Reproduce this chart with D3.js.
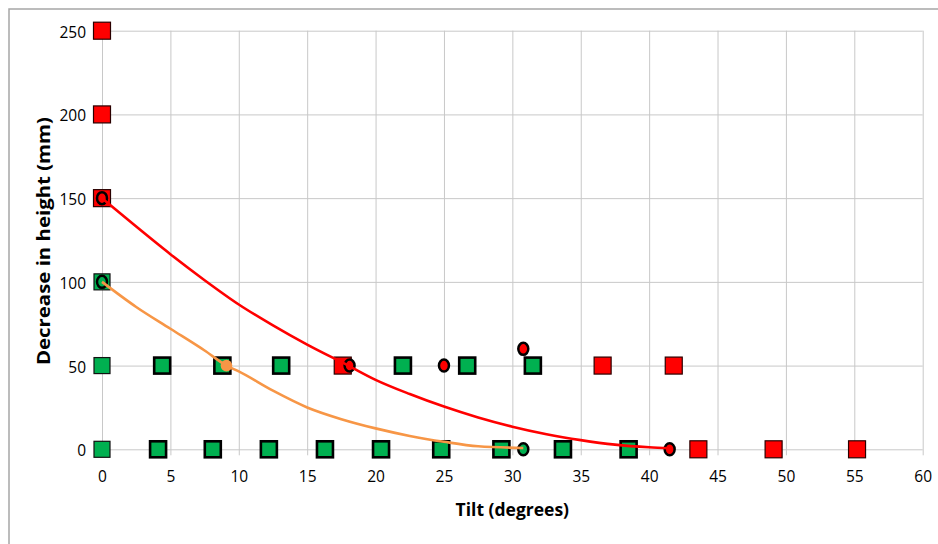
<!DOCTYPE html>
<html><head><meta charset="utf-8">
<script src="https://cdn.jsdelivr.net/npm/d3@7"></script>
<style>body{margin:0;background:#fff}</style>
</head><body>
<svg id="c" width="938" height="544"></svg>
<script>
// ---- data ----
const xTicks = [0,5,10,15,20,25,30,35,40,45,50,55,60];
const yTicks = [0,50,100,150,200,250];
const redSquares = [[0,250],[0,200],[0,150],[17.6,50],[36.6,50],[41.8,50],[43.6,0],[49.1,0],[55.2,0]];
const greenSquaresThin = [[0,100],[0,50],[0,0]];
const greenSquares = [[4.4,50],[8.8,50],[13.1,50],[22.0,50],[26.7,50],[31.5,50],
                      [4.1,0],[8.1,0],[12.2,0],[16.3,0],[20.4,0],[24.8,0],[29.2,0],[33.7,0],[38.5,0]];
const redCircles = [[0,150],[18.1,50],[25.0,50],[30.8,60],[41.5,0]];
const greenCircles = [[0,100],[30.8,0]];
const orangeCircles = [[9.1,50]];
const redCurve = [[0,150],[2.5,133],[5,116.5],[7.5,101],[10,86.5],[12.5,74],[15,62.5],[18,50],[20,41.5],
                  [22.5,33],[25,25.5],[27.5,19],[30,13.5],[32.5,9],[35,5.5],[37.5,2.8],[40,1.2],[41.5,0.6]];
const orangeCurve = [[0,100],[2.5,85],[5,72],[7.5,59],[9.1,50],[10,46.5],[12.5,35],[15,25],[17.5,18],
                     [20,12.5],[22.5,8],[25,4.5],[27.5,1.8],[30.8,0.8]];

// ---- layout ----
const svg = d3.select('#c');
const L = 102, R = 922.7, T = 30.7, B = 449.3;
const x = d3.scaleLinear().domain([0,60]).range([L,R]);
const y = d3.scaleLinear().domain([0,250]).range([B,T]);
const font = "'Open Sans', sans-serif";

// frame
svg.append('rect').attr('x',9).attr('y',9).attr('width',1000).attr('height',1000)
  .attr('fill','none').attr('stroke','#a6a6a6').attr('stroke-width',1.5);

// x grid + labels
const gx = svg.append('g').attr('transform',`translate(0,${B+6})`)
  .call(d3.axisBottom(x).tickValues(xTicks).tickSize(-(B-T+6)).tickSizeOuter(0).tickPadding(16));
gx.select('.domain').remove();
gx.selectAll('line').attr('stroke','#c8c8c8').attr('stroke-width',1);
gx.selectAll('text').attr('font-family',font).attr('font-size',15.5).attr('fill','#000');

// y grid + labels
const gy = svg.append('g').attr('transform',`translate(${L},0)`)
  .call(d3.axisLeft(y).tickValues(yTicks).tickSize(-(R-L)).tickSizeOuter(0).tickPadding(16));
gy.select('.domain').remove();
gy.selectAll('line').attr('stroke','#c8c8c8').attr('stroke-width',1);
gy.selectAll('text').attr('font-family',font).attr('font-size',15.5).attr('fill','#000').attr('dy','0.42em');

// titles
svg.append('text').attr('x',(L+R)/2).attr('y',516).attr('text-anchor','middle')
  .attr('font-family',font).attr('font-weight','bold').attr('font-size',17.5).text('Tilt (degrees)');
svg.append('text').attr('transform',`translate(50,241) rotate(-90)`).attr('text-anchor','middle')
  .attr('font-family',font).attr('font-weight','bold').attr('font-size',18.5)
  .attr('textLength',248).attr('lengthAdjust','spacingAndGlyphs').text('Decrease in height (mm)');

// squares
function squares(data, size, fill, stroke, sw){
  svg.append('g').selectAll('rect').data(data).join('rect')
    .attr('x',d=>x(d[0])-size/2).attr('y',d=>y(d[1])-size/2)
    .attr('width',size).attr('height',size)
    .attr('fill',fill).attr('stroke',stroke).attr('stroke-width',sw);
}
squares(redSquares,17,'#ff0000','#2a0000',1.2);
squares(greenSquaresThin,16,'#00b050','#111',1.2);
squares(greenSquares,16,'#00b050','#000',2.6);

// circles
function ellipses(data, rx, ry, fill, stroke, sw){
  svg.append('g').selectAll('ellipse').data(data).join('ellipse')
    .attr('cx',d=>x(d[0])).attr('cy',d=>y(d[1])).attr('rx',rx).attr('ry',ry)
    .attr('fill',fill).attr('stroke',stroke).attr('stroke-width',sw);
}
ellipses(redCircles,5,6,'#ff0000','#000',2.5);
ellipses(greenCircles,5,6,'#00b050','#000',2.5);

// curves
const line = d3.line().x(d=>x(d[0])).y(d=>y(d[1])).curve(d3.curveMonotoneX);
svg.append('path').datum(redCurve).attr('d',line).attr('fill','none').attr('stroke','#ff0000').attr('stroke-width',2.6);
svg.append('path').datum(orangeCurve).attr('d',line).attr('fill','none').attr('stroke','#f79646').attr('stroke-width',2.6);

ellipses(orangeCircles,5.8,5.8,'#f79646','none',0);
</script>
</body></html>
